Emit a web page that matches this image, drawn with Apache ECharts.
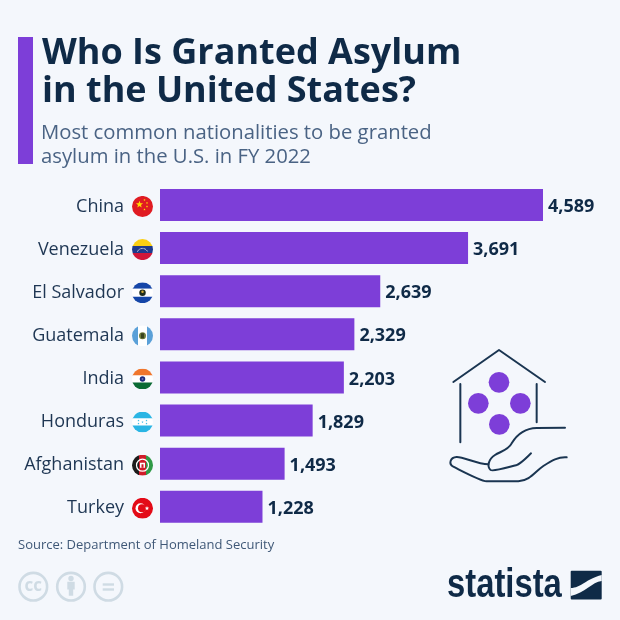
<!DOCTYPE html>
<html>
<head>
<meta charset="utf-8">
<title>Who Is Granted Asylum in the United States?</title>
<script src="https://cdn.jsdelivr.net/npm/echarts@6/dist/echarts.min.js"></script>
<style>
  html, body { margin: 0; padding: 0; background: #f4f7fc; }
  #chart { width: 620px; height: 620px; }
</style>
</head>
<body>
<div id="chart"></div>
<script>
const countries = ["China", "Venezuela", "El Salvador", "Guatemala", "India", "Honduras", "Afghanistan", "Turkey"];
const granted = [4589, 3691, 2639, 2329, 2203, 1829, 1493, 1228];
const titleLines = ["Who Is Granted Asylum", "in the United States?"];
const subtitleLines = ["Most common nationalities to be granted", "asylum in the U.S. in FY 2022"];
const sourceText = "Source: Department of Homeland Security";

const BG = "#f4f7fc";
const PURPLE = "#7d3ed8";
const NAVY = "#0f2a47";
const TEXT = "#1e3653";
const GREY = "#4a6384";
const CC = "#cfdbe4";
const FONT = "'Open Sans', sans-serif";

// --- flags, one small svg per country, clipped to a circle ---
function flagUri(inner) {
  const svg = `<svg xmlns="http://www.w3.org/2000/svg" width="84" height="84" viewBox="0 0 42 42">` +
    `<defs><clipPath id="c"><circle cx="21" cy="21" r="21"/></clipPath></defs><g clip-path="url(#c)">${inner}</g></svg>`;
  return "data:image/svg+xml;charset=utf-8," + encodeURIComponent(svg);
}
function star(x, y, r, fill) {
  let pts = [];
  for (let i = 0; i < 10; i++) {
    const a = -Math.PI / 2 + (i * Math.PI) / 5;
    const rr = i % 2 ? r * 0.42 : r;
    pts.push((x + rr * Math.cos(a)).toFixed(2) + "," + (y + rr * Math.sin(a)).toFixed(2));
  }
  return `<polygon points="${pts.join(" ")}" fill="${fill}"/>`;
}
function rect(x, y, w, h, fill) {
  return `<rect x="${x}" y="${y}" width="${w}" height="${h}" fill="${fill}"/>`;
}
const flagMarkup = {
  China: rect(0, 0, 42, 42, "#e01b22") + star(15, 17, 7.5, "#ffde00") + star(25, 8, 2.4, "#ffde00") +
    star(30, 14, 2.4, "#ffde00") + star(30, 21, 2.4, "#ffde00") + star(25, 27, 2.4, "#ffde00"),
  Venezuela: rect(0, 0, 42, 14, "#fbcf13") + rect(0, 14, 42, 14, "#1f3a8c") + rect(0, 28, 42, 14, "#d0173a") +
    `<path d="M11 25 A11 11 0 0 1 31 25" fill="none" stroke="#fff" stroke-width="2" stroke-dasharray="2 1"/>`,
  "El Salvador": rect(0, 0, 42, 13, "#1546a8") + rect(0, 13, 42, 16, "#fff") + rect(0, 29, 42, 13, "#1546a8") +
    `<circle cx="21" cy="21" r="6.5" fill="#1f2d1f"/><circle cx="21" cy="19" r="2.5" fill="#d9b23a"/>`,
  Guatemala: rect(0, 0, 12, 42, "#5aa0d8") + rect(12, 0, 18, 42, "#fff") + rect(30, 0, 12, 42, "#5aa0d8") +
    `<circle cx="21" cy="21" r="7" fill="#6f7d3d"/><rect x="18" y="16" width="6" height="10" fill="#38431f"/>`,
  India: rect(0, 0, 42, 14, "#f0762c") + rect(0, 14, 42, 14, "#fff") + rect(0, 28, 42, 14, "#0b6b34") +
    `<circle cx="21" cy="21" r="5.5" fill="#1d2a7c"/><circle cx="21" cy="21" r="2" fill="#6a74b5"/>`,
  Honduras: rect(0, 0, 42, 14, "#2ab5e4") + rect(0, 14, 42, 14, "#fff") + rect(0, 28, 42, 14, "#2ab5e4") +
    star(21, 21, 2.2, "#2ab5e4") + star(13, 18, 2.2, "#2ab5e4") + star(13, 24, 2.2, "#2ab5e4") +
    star(29, 18, 2.2, "#2ab5e4") + star(29, 24, 2.2, "#2ab5e4"),
  Afghanistan: rect(0, 0, 14, 42, "#1c1c1c") + rect(14, 0, 14, 42, "#d01c2a") + rect(28, 0, 14, 42, "#2f9a46") +
    `<circle cx="21" cy="21" r="12" fill="none" stroke="#fff" stroke-width="2.5"/><rect x="16" y="16" width="10" height="10" fill="#fff"/><rect x="19" y="19" width="4" height="7" fill="#d01c2a"/>`,
  Turkey: rect(0, 0, 42, 42, "#e30a17") + `<circle cx="17" cy="21" r="10" fill="#fff"/><circle cx="20" cy="21" r="8" fill="#e30a17"/>` +
    star(30, 21, 4.5, "#fff"),
};

// rich styles for the y axis labels
const richStyles = {
  name: { fontFamily: FONT, fontSize: 18, color: TEXT, align: "right" },
  gap: { width: 8 },
};
countries.forEach((c, i) => {
  richStyles["flag" + i] = { width: 21, height: 21, backgroundColor: { image: flagUri(flagMarkup[c]) } };
});

// graphic has no plain path type, so register the icon outlines as shapes
const iconPaths = {
  roof: "M70 126 L207 30 L345 126",
  wallLeft: "M91 132 L91 307",
  wallRight: "M320 132 L320 247",
  handTop: "M405 263 L320 264 C280 265 260 285 245 310 C235 330 210 335 195 345 C175 358 170 380 182 390 C190 396 240 380 258 376 C275 370 290 352 303 340",
  handBottom: "M410 352 C385 350 365 362 340 378 C315 395 300 422 265 424 L170 424 C150 422 100 395 70 380 C55 372 60 352 80 351 C100 350 140 372 175 373",
  logoSwoosh: "M570.7 588 C581 588 586 579 601.7 575 L601.7 581 C592 582 585 593 570.7 596 Z",
  person: "M67.3 581.7 L74.7 581.7 L74.7 589.5 L73.2 589.5 L73.2 595.7 L68.8 595.7 L68.8 589.5 L67.3 589.5 Z",
};
Object.keys(iconPaths).forEach((k) => {
  echarts.graphic.registerShape(k, echarts.graphic.extendPath(iconPaths[k]));
});

const chart = echarts.init(document.getElementById("chart"), null, { renderer: "canvas" });

function txt(x, y, text, size, color, weight) {
  return {
    type: "text", x, y,
    style: { text, fontFamily: FONT, fontSize: size, fontWeight: weight || "normal", fill: color, verticalAlign: "middle" },
  };
}
function stroke(name) {
  return { type: name, style: { fill: "none", stroke: "#1a3551", lineWidth: 6, lineCap: "round", lineJoin: "round" } };
}
function dot(cx, cy) {
  return { type: "circle", shape: { cx, cy, r: 31 }, style: { fill: PURPLE } };
}
function ccRing(cx) {
  return { type: "circle", shape: { cx, cy: 586.7, r: 13.8 }, style: { fill: "none", stroke: CC, lineWidth: 2.6 } };
}

chart.setOption({
  animation: false,
  backgroundColor: BG,
  grid: { left: 160, top: 183.4, width: 417.3, height: 345, containLabel: false },
  xAxis: { type: "value", min: 0, max: 5000, show: false },
  yAxis: {
    type: "category",
    inverse: true,
    data: countries,
    axisLine: { show: false },
    axisTick: { show: false },
    axisLabel: {
      margin: 7,
      padding: [3, 0, 0, 0],
      formatter: (v) => `{name|${v}}{gap|}{flag${countries.indexOf(v)}|}`,
      rich: richStyles,
    },
  },
  series: [
    {
      type: "bar",
      data: granted,
      barWidth: 32,
      itemStyle: { color: PURPLE },
      label: {
        show: true,
        position: "right",
        distance: 5,
        offset: [0, 2],
        fontFamily: FONT,
        fontSize: 18,
        fontWeight: "bold",
        color: NAVY,
        formatter: (p) => p.value.toLocaleString("en-US"),
      },
    },
  ],
  graphic: [
    { type: "rect", shape: { x: 18, y: 37, width: 15, height: 127 }, style: { fill: PURPLE } },
    txt(42, 54, titleLines[0], 36, NAVY, "bold"),
    txt(42, 92, titleLines[1], 36, NAVY, "bold"),
    txt(41, 133, subtitleLines[0], 20.3, GREY),
    txt(41, 157, subtitleLines[1], 20.3, GREY),
    txt(18, 545, sourceText, 13, "#3f5877"),

    // house and hand icon, drawn at 3x and scaled down
    {
      type: "group", x: 430, y: 340, scaleX: 1 / 3, scaleY: 1 / 3,
      children: [
        stroke("roof"), stroke("wallLeft"), stroke("wallRight"),
        dot(207, 127), dot(145, 190), dot(271, 190), dot(208, 253),
        stroke("handTop"), stroke("handBottom"),
      ],
    },

    // cc icons
    ccRing(33.3), ccRing(71), ccRing(108.3),
    { type: "text", x: 33.3, y: 586, style: { text: "cc", fontFamily: FONT, fontWeight: "bold", fontSize: 17, fill: CC, align: "center", verticalAlign: "middle" } },
    { type: "circle", shape: { cx: 71, cy: 578.5, r: 2.7 }, style: { fill: CC } },
    { type: "person", style: { fill: CC } },
    { type: "rect", shape: { x: 102.7, y: 583.3, width: 11.3, height: 2.4 }, style: { fill: CC } },
    { type: "rect", shape: { x: 102.7, y: 588.3, width: 11.3, height: 2.4 }, style: { fill: CC } },

    // statista logo
    {
      type: "text", x: 447, y: 586, scaleX: 0.8,
      style: { text: "statista", fontFamily: "'Liberation Sans', sans-serif", fontWeight: "bold", fontSize: 41, fill: NAVY, verticalAlign: "middle" },
    },
    { type: "rect", shape: { x: 570.7, y: 570.7, width: 31, height: 28.8, r: 1 }, style: { fill: NAVY } },
    { type: "logoSwoosh", style: { fill: BG } },
  ],
});
</script>
</body>
</html>
